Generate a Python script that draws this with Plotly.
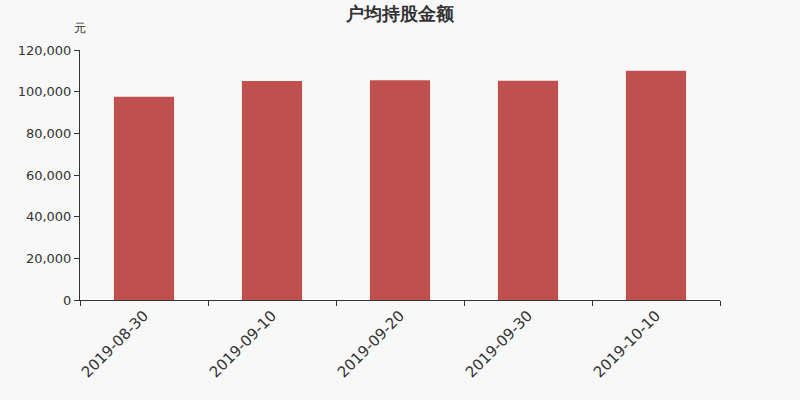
import plotly.graph_objects as go

# 户均持股金额 (元)
datas = ['2019-08-30', '2019-09-10', '2019-09-20', '2019-09-30', '2019-10-10']
valores = [97600, 105100, 105500, 105200, 110000]

fig = go.Figure()
fig.add_trace(go.Bar(x=datas, y=valores, marker_color='#c0504d', marker_line_width=0, width=0.47))

fig.update_layout(
    width=800, height=400,
    paper_bgcolor='#f8f8f8', plot_bgcolor='#f8f8f8',
    margin=dict(l=80, r=80, t=50, b=100),
    font=dict(family='DejaVu Sans', color='#333'),
    title=dict(text='<b>户均持股金额</b>', x=0.5, xanchor='center', y=0.965, yanchor='middle',
               font=dict(size=18, color='#333')),
    showlegend=False,
    annotations=[dict(text='元', xref='paper', yref='paper', x=0, y=1.088,
                      xanchor='center', yanchor='middle', showarrow=False,
                      font=dict(size=12, color='#333'))],
)
fig.update_xaxes(type='category', tickangle=-45, tickson='boundaries', ticks='outside',
                 ticklen=5, tickcolor='#333', showline=True, linecolor='#333',
                 tickfont=dict(size=15, color='#333'), showgrid=False, automargin=False)
fig.update_yaxes(range=[0, 120000], dtick=20000, tickformat=',', ticks='outside',
                 ticklen=5, tickcolor='#333', showline=True, linecolor='#333',
                 tickfont=dict(size=13, color='#333'), showgrid=False, zeroline=False,
                 automargin=False)

fig.write_html("out.html", config={'displayModeBar': False},
               post_script="document.body.style.margin='0';document.body.style.overflow='hidden';")
